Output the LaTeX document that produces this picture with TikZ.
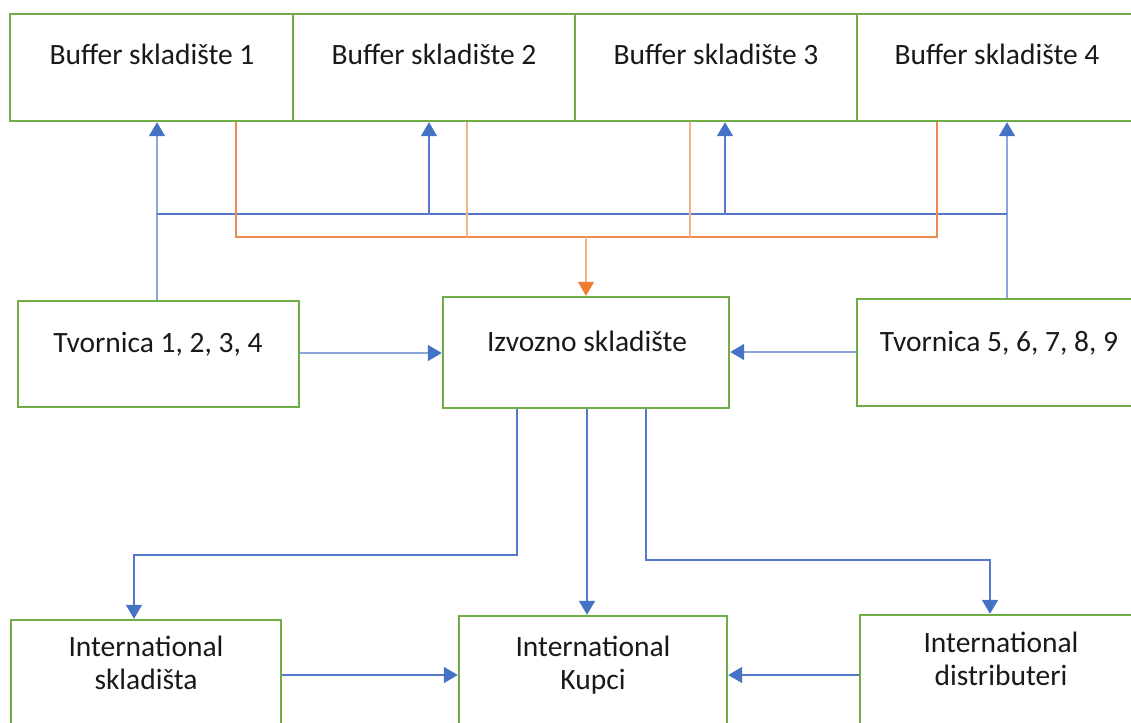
\documentclass[tikz,border=0pt]{standalone}
\usepackage{fontspec}
\setmainfont{Carlito}
\usetikzlibrary{arrows.meta}
\definecolor{boxgreen}{HTML}{70AD47}
\definecolor{lnblue}{HTML}{5479CC}
\definecolor{lnblueL}{HTML}{8AA6DC}
\definecolor{lnorange}{HTML}{EE8A4E}
\definecolor{lnorangeL}{HTML}{F5B38C}
\definecolor{tiporange}{HTML}{ED7D31}
\definecolor{tipblue}{HTML}{4472C4}
\tikzset{
  box/.style={draw=boxgreen, line width=2.4pt, rectangle, inner sep=0pt},
  lbl/.style={anchor=base, align=center, inner sep=0pt, font=\fontsize{29.5}{33}\selectfont, text=black!90},
  bl/.style={draw=lnblue, line width=1.6pt},
  bla/.style={draw=lnblue, line width=1.6pt, -{Triangle[length=14pt 0 0,width=16pt 0 0,color=tipblue]}},
  blLa/.style={draw=lnblueL, line width=1.6pt, -{Triangle[length=14pt 0 0,width=16pt 0 0,color=tipblue]}},
  ol/.style={draw=lnorange, line width=1.6pt},
  olL/.style={draw=lnorangeL, line width=1.6pt},
  olLa/.style={draw=lnorangeL, line width=1.6pt, -{Triangle[length=14pt 0 0,width=16pt 0 0,color=tiporange]}},
}
\begin{document}
\begin{tikzpicture}[x=1pt,y=-1pt]
\useasboundingbox (0,0) rectangle (1131,722);
% top row
\node[box, minimum width=283, minimum height=107] (b1) at (151.5,67.5) {};
\node[box, minimum width=282, minimum height=107] (b2) at (434,67.5) {};
\node[box, minimum width=282, minimum height=107] (b3) at (716,67.5) {};
\node[box, minimum width=283, minimum height=107] (b4) at (998.5,67.5) {};
\node[lbl] (b1t) at (152,65) {Buffer skladište 1};
\node[lbl] (b2t) at (434,65) {Buffer skladište 2};
\node[lbl] (b3t) at (716,65) {Buffer skladište 3};
\node[lbl] (b4t) at (997,65) {Buffer skladište 4};
% middle row
\node[box, minimum width=281, minimum height=106] (t1) at (158.5,354) {};
\node[box, minimum width=286, minimum height=111] (iz) at (586,352.5) {};
\node[box, minimum width=283, minimum height=107] (t5) at (998.5,352.5) {};
\node[lbl] (t1t) at (158,352) {Tvornica 1, 2, 3, 4};
\node[lbl] (izt) at (587,351) {Izvozno skladište};
\node[lbl] (t5t) at (999,351) {Tvornica 5, 6, 7, 8, 9};
% bottom row
\node[box, minimum width=270, minimum height=140] (isk) at (146,690) {};
\node[box, minimum width=268, minimum height=144] (kup) at (593,688) {};
\node[box, minimum width=280, minimum height=145] (dis) at (1000,687.5) {};
\node[lbl] (iskt) at (146,689) {International\\skladišta};
\node[lbl] (kupt) at (593,689) {International\\Kupci};
\node[lbl] (dist) at (1001,685) {International\\distributeri};
% blue bus to buffers
\coordinate (bus1) at (157,214);
\coordinate (bus2) at (429,214);
\coordinate (bus3) at (725,214);
\coordinate (bus4) at (1007,214);
\draw[blLa] (bus1 |- t1.north) -- (bus1 |- b1.south);
\draw[blLa] (bus4 |- t5.north) -- (bus4 |- b4.south);
\draw[bl] (bus1) -- (bus4);
\draw[bla] (bus2) -- (bus2 |- b2.south);
\draw[bla] (bus3) -- (bus3 |- b3.south);
% orange collector
\coordinate (ob1) at (236,237);
\coordinate (ob2) at (467,237);
\coordinate (ob3) at (690,237);
\coordinate (ob4) at (937,237);
\draw[ol] (ob1 |- b1.south) -- (ob1) -- (ob4) -- (ob4 |- b4.south);
\draw[olL] (ob2 |- b2.south) -- (ob2);
\draw[olL] (ob3 |- b3.south) -- (ob3);
\draw[olLa] (iz.north |- ob1) -- (iz.north);
% factories to export warehouse
\draw[blLa] (t1.east |- 0,353) -- (iz.west |- 0,353);
\draw[blLa] (t5.west |- 0,352) -- (iz.east |- 0,352);
% export warehouse downwards
\coordinate (d1) at (517,555);
\coordinate (d1b) at (134,555);
\coordinate (d3) at (646,560);
\coordinate (d3b) at (990,560);
\draw[bla] (d1 |- iz.south) -- (d1) -- (d1b) -- (d1b |- isk.north);
\draw[bla] (iz.south -| 587,0) -- (kup.north -| 587,0);
\draw[bla] (d3 |- iz.south) -- (d3) -- (d3b) -- (d3b |- dis.north);
% bottom horizontals
\draw[bla] (isk.east |- 0,675) -- (kup.west |- 0,675);
\draw[bla] (dis.west |- 0,675) -- (kup.east |- 0,675);
\end{tikzpicture}
\end{document}
